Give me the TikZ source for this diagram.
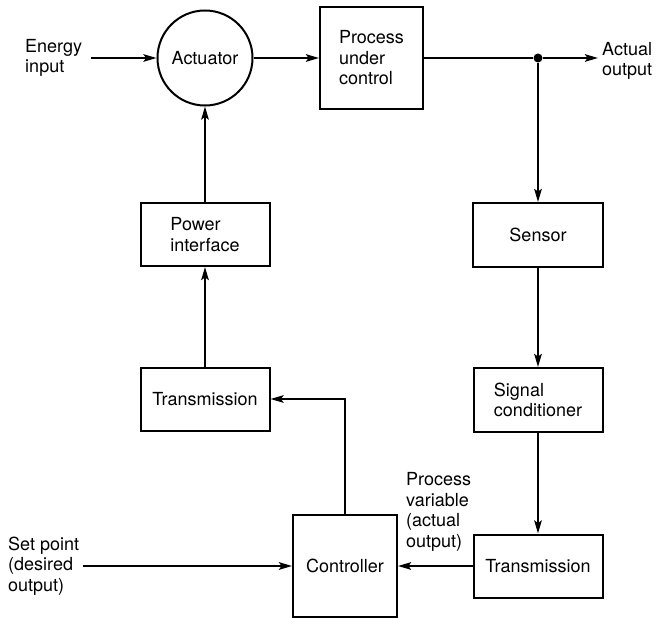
\documentclass[tikz,border=0pt]{standalone}
\usepackage{fontspec}
\setmainfont{TeX Gyre Heros}
\usetikzlibrary{arrows.meta}
\tikzset{
    blockbox/.style = {shape=rectangle, draw, line width=2pt,
        align=left, inner sep=0pt},
    ring/.style     = {shape=circle, draw, line width=2pt,
        minimum size=95pt, inner sep=0pt},
    note/.style     = {align=left, inner sep=4pt},
    link/.style     = {draw, line width=2pt,
        -{Stealth[length=13pt,width=7.5pt,inset=2.5pt]}},
    junction/.style = {shape=circle, fill, minimum size=9pt, inner sep=0pt}
}

\begin{document}
\begin{tikzpicture}
            [
            x                 = 1pt,
            y                 = -1pt,
            every node/.style = {font=\fontsize{18}{20.5}\selectfont}
            ]
            \useasboundingbox (0,0) rectangle (665,618);
            \node[ring] (actuator) at (205,58) {Actuator};
            \node[blockbox, minimum width=103pt, minimum height=102pt]
                (process) at (371.5,58) {Process\\under\\control};
            \node[junction] (split) at (538,58) {};
            \coordinate (outtip) at (598,58);
            \node[blockbox, minimum width=129pt, minimum height=63pt]
                (power) at (205,234.5) {Power\\interface};
            \node[blockbox, minimum width=129pt, minimum height=63pt]
                (txleft) at (205,399) {Transmission};
            \node[blockbox, minimum width=130pt, minimum height=64pt]
                (sensor) at (538,235) {Sensor};
            \node[blockbox, minimum width=129pt, minimum height=64pt]
                (signal) at (538,400) {Signal\\conditioner};
            \node[blockbox, minimum width=129pt, minimum height=63pt]
                (txright) at (538,566) {Transmission};
            \node[blockbox, minimum width=104pt, minimum height=102pt]
                (controller) at (345,566) {Controller};
            % texts beside the loop
            \node[note, anchor=west] (energy) at (21,58) {Energy\\input};
            \node[note, anchor=west] (actual) at (598,61) {Actual\\output};
            \node[note, anchor=west] (setpoint) at (4,566) {Set point\\(desired\\output)};
            \node[note, anchor=west] (pvlabel) at (402,512) {Process\\variable\\(actual\\output)};
            % connectors
            \draw[link, shorten <=5pt] (energy) -- (actuator);
            \draw[link] (actuator) -- (process);
            \draw[line width=2pt] (process) -- (split);
            \draw[link] (split) -- (outtip);
            \draw[link] (split) -- (sensor);
            \draw[link] (sensor) -- (signal);
            \draw[link] (signal) -- (txright);
            \draw[link] (txright) -- (controller);
            \draw[link] (setpoint) -- (controller);
            \draw[link] (controller.north) |- (txleft.east);
            \draw[link] (txleft) -- (power);
            \draw[link] (power) -- (actuator);
    \end{tikzpicture}
\end{document}
